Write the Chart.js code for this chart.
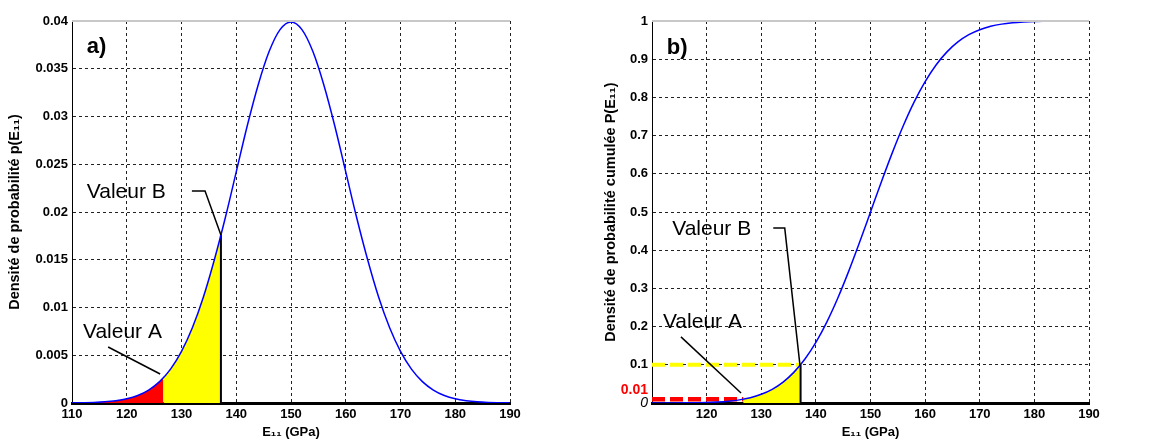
<!DOCTYPE html>
<html>
<head>
<meta charset="utf-8">
<script src="https://cdn.jsdelivr.net/npm/chart.js@4/dist/chart.umd.min.js"></script>
<style>
  body { margin: 0; background: #fff; }
  canvas { position: absolute; top: 0; }
</style>
</head>
<body>
<canvas id="pdfChart" width="580" height="443" style="left:0"></canvas>
<canvas id="cdfChart" width="581" height="443" style="left:580px"></canvas>
<script>
// E11 (GPa) sample positions and values
const eValues = [110, 112, 114, 116, 118, 120, 122, 124, 126, 128, 130, 132, 134, 136, 138, 140,
  142, 144, 146, 148, 150, 152, 154, 156, 158, 160, 162, 164, 166, 168, 170, 172, 174, 176, 178,
  180, 182, 184, 186, 188, 190];
const pdfValues = [0.00001, 0.00003, 0.00006, 0.00012, 0.00024, 0.00044, 0.00079, 0.00136, 0.00224,
  0.00355, 0.0054, 0.0079, 0.0111, 0.015, 0.0194, 0.0242, 0.029, 0.0333, 0.0368, 0.0391, 0.0399,
  0.0391, 0.0368, 0.0333, 0.029, 0.0242, 0.0194, 0.015, 0.0111, 0.0079, 0.0054, 0.00355, 0.00224,
  0.00136, 0.00079, 0.00044, 0.00024, 0.00012, 0.00006, 0.00003, 0.00001];
const cdfValues = [0.00003, 0.00007, 0.00016, 0.00034, 0.00069, 0.0013, 0.0026, 0.0047, 0.0082,
  0.0139, 0.0228, 0.0359, 0.0548, 0.0808, 0.1151, 0.1587, 0.2119, 0.2743, 0.3446, 0.4207, 0.5,
  0.5793, 0.6554, 0.7257, 0.7881, 0.8413, 0.8849, 0.9192, 0.9452, 0.9641, 0.9772, 0.9861, 0.9918,
  0.9953, 0.9974, 0.9987, 0.9993, 0.9997, 0.9998, 0.9999, 1.0];

// the two marked values
const valeurA = 126.7;
const valeurB = 137.2;
const pdfAtA = 0.0026;
const pdfAtB = 0.0176;
const cdfAtA = 0.01;
const cdfAtB = 0.1;

// tick labels
const eTicks = [110, 120, 130, 140, 150, 160, 170, 180, 190];
const pdfTicks = [0, 0.005, 0.01, 0.015, 0.02, 0.025, 0.03, 0.035, 0.04];
const cdfTicks = [0, 0.1, 0.2, 0.3, 0.4, 0.5, 0.6, 0.7, 0.8, 0.9, 1];

const textFamily = "'Liberation Sans', Arial, sans-serif";
const tickFont = { family: textFamily, size: 13, weight: 'bold' };
const titleFont = { family: textFamily, size: 14.5, weight: 'bold' };

function curvePoints(ys) {
  return eValues.map((x, i) => ({ x: x, y: ys[i] }));
}

// points of a curve between two x values, with exact end points
function curveSlice(ys, x0, y0, x1, y1) {
  const pts = [{ x: x0, y: y0 }];
  eValues.forEach((x, i) => {
    if (x > x0 && x < x1) pts.push({ x: x, y: ys[i] });
  });
  pts.push({ x: x1, y: y1 });
  return pts;
}

function lineSet(data, color, width, dash) {
  return {
    data: data, borderColor: color, borderWidth: width, borderDash: dash || [],
    pointRadius: 0, fill: false, cubicInterpolationMode: 'monotone'
  };
}

function fillSet(data, color) {
  return {
    data: data, borderWidth: 0, borderColor: color, backgroundColor: color,
    pointRadius: 0, fill: 'origin', cubicInterpolationMode: 'monotone'
  };
}

// texts, leader lines, top border and the red 0.01 label
const notesPlugin = {
  id: 'notes',
  afterDatasetsDraw(chart, args, opts) {
    const ctx = chart.ctx;
    const xs = chart.scales.x;
    const ys = chart.scales.y;
    const area = chart.chartArea;
    ctx.save();

    ctx.strokeStyle = '#c8c8c8';
    ctx.lineWidth = 2;
    ctx.beginPath();
    ctx.moveTo(area.left, area.top);
    ctx.lineTo(area.right, area.top);
    ctx.stroke();

    ctx.strokeStyle = '#000';
    ctx.lineWidth = 1.5;
    opts.leaders.forEach(pts => {
      ctx.beginPath();
      pts.forEach((p, i) => {
        const px = xs.getPixelForValue(p[0]);
        const py = ys.getPixelForValue(p[1]);
        if (i === 0) ctx.moveTo(px, py); else ctx.lineTo(px, py);
      });
      ctx.stroke();
    });

    ctx.fillStyle = '#000';
    ctx.textBaseline = 'middle';
    ctx.textAlign = 'left';
    opts.texts.forEach(t => {
      ctx.font = t.font;
      ctx.fillText(t.text, xs.getPixelForValue(t.x), ys.getPixelForValue(t.y));
    });

    if (opts.redLabel) {
      ctx.fillStyle = '#ff0000';
      ctx.textAlign = 'right';
      ctx.font = "bold 14px " + textFamily;
      ctx.fillText(opts.redLabel, area.left - 4, ys.getPixelForValue(cdfAtA) - 9);
    }
    ctx.restore();
  }
};

function makeOptions(yTicks, yTitle, padLeft, padRight, yWidth, isCdf, notes) {
  const yMax = yTicks[yTicks.length - 1];
  return {
    responsive: false,
    animation: false,
    layout: { padding: { left: padLeft, right: padRight, top: 21, bottom: 0 } },
    plugins: { legend: { display: false }, tooltip: { enabled: false }, notes: notes },
    scales: {
      x: {
        type: 'linear', min: 110, max: 190,
        afterBuildTicks: s => { s.ticks = eTicks.map(v => ({ value: v })); },
        afterFit: s => { s.height = 40; },
        ticks: {
          color: '#000', font: tickFont, padding: 4, maxRotation: 0,
          callback: v => (isCdf && v === 110) ? '' : String(v)
        },
        grid: { color: '#222', lineWidth: 1, drawTicks: false },
        border: { color: '#000', width: 3, dash: [3, 3] },
        title: { display: true, text: 'E₁₁ (GPa)', color: '#000', font: tickFont, padding: { top: 0, bottom: 3 } }
      },
      y: {
        type: 'linear', min: 0, max: yMax,
        afterBuildTicks: s => { s.ticks = yTicks.map(v => ({ value: v })); },
        afterFit: s => { s.width = yWidth; },
        ticks: {
          color: '#000', padding: 4, callback: v => String(v),
          font: c => (isCdf && c.tick && c.tick.value === 0)
            ? { family: textFamily, size: 14, style: 'italic', weight: 'normal' } : tickFont
        },
        grid: {
          color: c => (c.tick && c.tick.value === yMax) ? 'rgba(0,0,0,0)' : '#222',
          lineWidth: 1, drawTicks: false
        },
        border: { color: '#000', width: 1, dash: [3, 3] },
        title: { display: true, text: yTitle, color: '#000', font: titleFont, padding: { top: 2, bottom: 4 } }
      }
    }
  };
}

// a) probability density
new Chart(document.getElementById('pdfChart'), {
  type: 'line',
  data: {
    datasets: [
      lineSet(curvePoints(pdfValues), '#0000ff', 1.5),
      lineSet([{ x: valeurB, y: 0 }, { x: valeurB, y: pdfAtB }], '#000', 2),
      fillSet(curveSlice(pdfValues, eValues[0], pdfValues[0], valeurA, pdfAtA), '#ff0000'),
      fillSet(curveSlice(pdfValues, valeurA, pdfAtA, valeurB, pdfAtB), '#ffff00')
    ]
  },
  options: makeOptions(pdfTicks, 'Densité de probabilité p(E₁₁)', 4, 70, 68, false, {
    texts: [
      { text: 'a)', x: 112.7, y: 0.0373, font: 'bold 22px ' + textFamily },
      { text: 'Valeur B', x: 112.7, y: 0.0221, font: '21px ' + textFamily },
      { text: 'Valeur A', x: 112.0, y: 0.00743, font: '21px ' + textFamily }
    ],
    leaders: [
      [[131.9, 0.0222], [134.3, 0.0222], [valeurB, pdfAtB]],
      [[116.6, 0.00586], [126.1, 0.00304]]
    ]
  }),
  plugins: [notesPlugin]
});

// b) cumulative probability
new Chart(document.getElementById('cdfChart'), {
  type: 'line',
  data: {
    datasets: [
      lineSet(curvePoints(cdfValues), '#0000ff', 1.5),
      lineSet([{ x: valeurB, y: 0 }, { x: valeurB, y: cdfAtB }], '#000', 2),
      lineSet([{ x: 110, y: cdfAtB }, { x: valeurB, y: cdfAtB }], '#ffff00', 4, [13, 5]),
      lineSet([{ x: 110, y: cdfAtA }, { x: valeurA, y: cdfAtA }], '#ff0000', 4.5, [13, 5]),
      fillSet(curveSlice(cdfValues, valeurA, cdfAtA, valeurB, cdfAtB), '#ffff00')
    ]
  },
  options: makeOptions(cdfTicks, 'Densité de probabilité cumulée P(E₁₁)', 20, 72, 52, true, {
    texts: [
      { text: 'b)', x: 112.7, y: 0.93, font: 'bold 22px ' + textFamily },
      { text: 'Valeur B', x: 113.7, y: 0.455, font: '21px ' + textFamily },
      { text: 'Valeur A', x: 112.0, y: 0.212, font: '21px ' + textFamily }
    ],
    leaders: [
      [[132.2, 0.458], [134.3, 0.458], [137.1, 0.097]],
      [[115.3, 0.173], [126.3, 0.026]]
    ],
    redLabel: '0.01'
  }),
  plugins: [notesPlugin]
});
</script>
</body>
</html>
